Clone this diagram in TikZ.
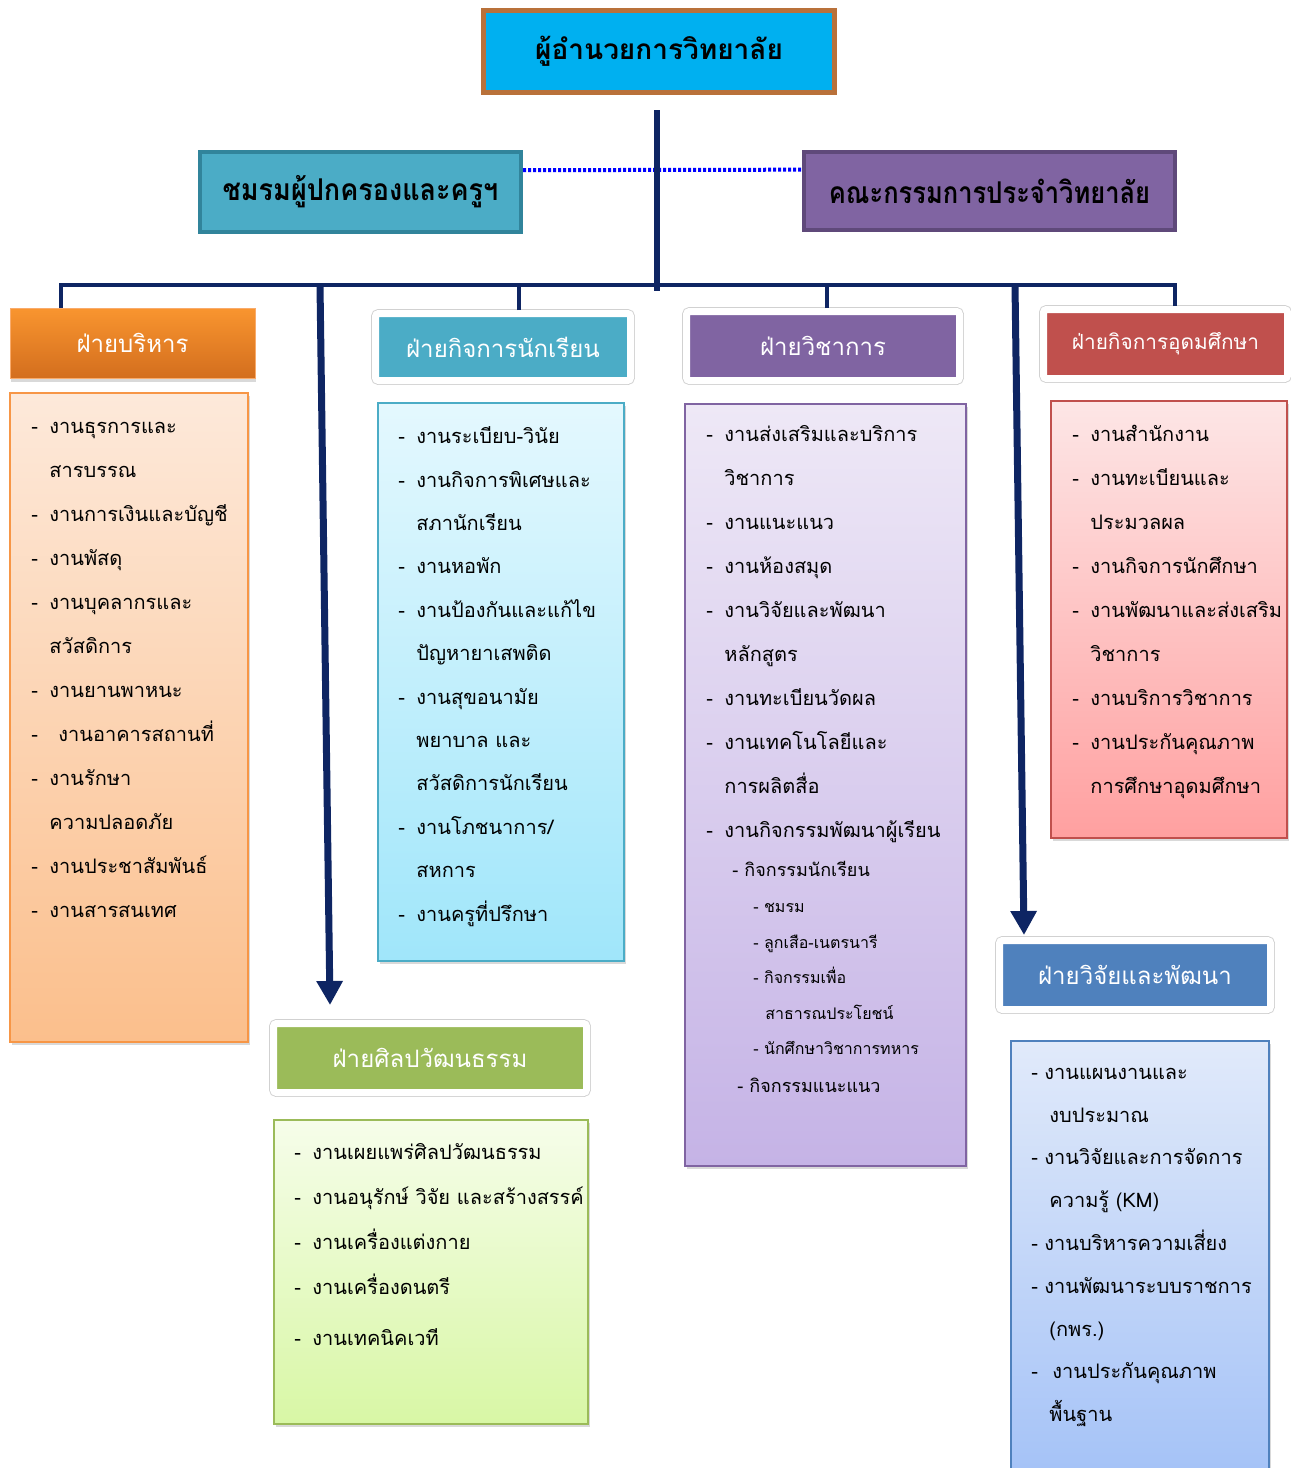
\documentclass[tikz,border=0pt]{standalone}
\usepackage{fontspec}
\usepackage{graphicx}
\newfontfamily\thai[Script=Thai]{Loma}
\usetikzlibrary{arrows.meta,shadows,calc}

\definecolor{navy}{HTML}{0E2563}
\definecolor{dirfill}{HTML}{00B0F0}
\definecolor{dirline}{HTML}{B9713A}
\definecolor{parfill}{HTML}{4BACC6}
\definecolor{parline}{HTML}{31849B}
\definecolor{brdfill}{HTML}{8064A2}
\definecolor{brdline}{HTML}{5F497A}
\definecolor{admtop}{HTML}{F9952F}
\definecolor{admbot}{HTML}{D36E1E}
\definecolor{stufill}{HTML}{4BACC6}
\definecolor{acadfill}{HTML}{8064A2}
\definecolor{highfill}{HTML}{C0504D}
\definecolor{rndfill}{HTML}{4F81BD}
\definecolor{cultfill}{HTML}{9BBB59}
\definecolor{admlt}{HTML}{FDE9DA}
\definecolor{admdk}{HTML}{FBBF8C}
\definecolor{admln}{HTML}{F79646}
\definecolor{stult}{HTML}{E4F8FE}
\definecolor{studk}{HTML}{A0E6FA}
\definecolor{acadlt}{HTML}{EEE8F6}
\definecolor{acaddk}{HTML}{C5B3E6}
\definecolor{highlt}{HTML}{FDE6E6}
\definecolor{highdk}{HTML}{FFA0A0}
\definecolor{rndlt}{HTML}{E1EAFA}
\definecolor{rnddk}{HTML}{A4C2F7}
\definecolor{cultlt}{HTML}{F6FDEA}
\definecolor{cultdk}{HTML}{D8F7A5}

\newcommand{\itm}[1]{\strut\makebox[9pt][l]{-}#1}
\newcommand{\cnt}[1]{\strut\hspace*{9pt}#1}
\newcommand{\cond}[2]{\scalebox{#1}[1]{#2}}

\tikzset{
  topbox/.style={draw, line width=2.5pt, inner sep=0pt,
    font=\thai\bfseries\fontsize{14}{18}\selectfont},
  sidebox/.style={draw, line width=2pt, inner sep=0pt,
    font=\thai\bfseries\fontsize{15}{18}\selectfont},
  headbox/.style={draw=white, line width=3.5pt, rounded corners=1.5pt, inner sep=0pt,
    text=white, font=\thai\fontsize{12}{15}\selectfont,
    drop shadow={opacity=0.3, shadow xshift=0.6pt, shadow yshift=-2pt},
    preaction={draw=black!18, line width=4.4pt}},
  listbox/.style={line width=1pt, inner sep=0pt,
    drop shadow={opacity=0.3, shadow xshift=1.2pt, shadow yshift=-1.6pt}},
  listtext/.style={anchor=north west, align=left, inner sep=0pt,
    font=\thai\fontsize{10}{22}\selectfont},
  subm/.style={anchor=base west, inner sep=0pt, font=\thai\fontsize{9}{11}\selectfont},
  subs/.style={anchor=base west, inner sep=0pt, font=\thai\fontsize{8}{9}\selectfont},
  trunkline/.style={navy, line width=3pt},
  busline/.style={navy, line width=2pt},
  bigarrow/.style={navy, line width=3.5pt, -{Triangle[width=12.5pt,length=12pt]}},
  dotlink/.style={blue, line width=2pt, dash pattern=on 1.5pt off 1pt}
}

\begin{document}
\begin{tikzpicture}[x=0.5pt,y=-0.5pt]
  \useasboundingbox (0,0) rectangle (1291,1468);

  % top level
  \node[topbox, draw=dirline, fill=dirfill, minimum width=175.5pt, minimum height=41pt]
    (dir) at (659,51.5) {ผู้อำนวยการวิทยาลัย};
  \node[sidebox, draw=parline, fill=parfill, minimum width=160.5pt, minimum height=40pt]
    (parent) at (360.5,192) {\cond{0.9}{ชมรมผู้ปกครองและครูฯ}};
  \node[sidebox, draw=brdline, fill=brdfill, minimum width=185.5pt, minimum height=39pt]
    (board) at (989.5,191) {\cond{0.85}{คณะกรรมการประจำวิทยาลัย}};

  \draw[dotlink] ($(parent.north east)!0.24!(parent.south east)$)
    -- ($(board.north west)!0.24!(board.south west)$);

  % divisions
  \node[draw=admln!80!white, line width=0.5pt, top color=admtop, bottom color=admbot,
    text=white, inner sep=0pt, font=\thai\fontsize{12}{15}\selectfont,
    minimum width=122.5pt, minimum height=35pt,
    drop shadow={opacity=0.3, shadow xshift=0.6pt, shadow yshift=-2pt}]
    (adm) at (132.5,343) {ฝ่ายบริหาร};
  \node[headbox, fill=stufill, minimum width=127.5pt, minimum height=33.5pt]
    (stu) at (503,347) {ฝ่ายกิจการนักเรียน};
  \node[headbox, fill=acadfill, minimum width=136.5pt, minimum height=34.5pt]
    (acad) at (823,346) {ฝ่ายวิชาการ};
  \node[headbox, fill=highfill, minimum width=122pt, minimum height=34.5pt,
    font=\thai\fontsize{10.4}{14}\selectfont]
    (high) at (1165.5,344) {ฝ่ายกิจการอุดมศึกษา};
  \node[headbox, fill=cultfill, minimum width=156.5pt, minimum height=34.5pt]
    (cult) at (430,1058) {ฝ่ายศิลปวัฒนธรรม};
  \node[headbox, fill=rndfill, minimum width=135.5pt, minimum height=34.5pt]
    (rnd) at (1135,975) {ฝ่ายวิจัยและพัฒนา};

  % connectors
  \coordinate (trunk) at (657,110);
  \coordinate (bus) at (657,285);
  \foreach \n/\dx in {adm/-71.5, stu/16, acad/4, high/9.5}
    \draw[busline] ($(\n.north)+(\dx,0)$) |- (bus);
  \draw[trunkline] (trunk) -- ($(bus)+(0,6)$);
  \coordinate (cultsrc) at (320,285);
  \coordinate (rndsrc) at (1015,285);
  \draw[bigarrow] (cultsrc) -- ($(cult.north west)+(60,-15)$);
  \draw[bigarrow] (rndsrc) -- ($(rnd.north west)+(28,-2)$);

  % task boxes
  \node[listbox, draw=admln, top color=admlt, bottom color=admdk,
    minimum width=119pt, minimum height=324.5pt] (admlist) at (129,717.5) {};
  \node[listbox, draw=stufill, top color=stult, bottom color=studk,
    minimum width=123pt, minimum height=279pt] (stulist) at (501,682) {};
  \node[listbox, draw=acadfill, top color=acadlt, bottom color=acaddk,
    minimum width=140.5pt, minimum height=381pt] (acadlist) at (825.5,785) {};
  \node[listbox, draw=highfill, top color=highlt, bottom color=highdk,
    minimum width=118pt, minimum height=218.5pt] (highlist) at (1169,619.5) {};
  \node[listbox, draw=rndfill, top color=rndlt, bottom color=rnddk,
    minimum width=129pt, minimum height=219.5pt] (rndlist) at (1140,1260.5) {};
  \node[listbox, draw=cultfill, top color=cultlt, bottom color=cultdk,
    minimum width=157pt, minimum height=152pt] (cultlist) at (431,1272) {};

  \node[listtext] (admtext) at ($(admlist.north west)+(22,10)$) {%
    \itm{งานธุรการและ}\\
    \cnt{สารบรรณ}\\
    \itm{งานการเงินและบัญชี}\\
    \itm{งานพัสดุ}\\
    \itm{งานบุคลากรและ}\\
    \cnt{สวัสดิการ}\\
    \itm{งานยานพาหนะ}\\
    \strut\makebox[13.5pt][l]{-}งานอาคารสถานที่\\
    \itm{งานรักษา}\\
    \cnt{ความปลอดภัย}\\
    \itm{งานประชาสัมพันธ์}\\
    \itm{งานสารสนเทศ}};

  \node[listtext, font=\thai\fontsize{10}{21.7}\selectfont]
    (stutext) at ($(stulist.north west)+(21,11)$) {%
    \itm{งานระเบียบ-วินัย}\\
    \itm{งานกิจการพิเศษและ}\\
    \cnt{สภานักเรียน}\\
    \itm{งานหอพัก}\\
    \itm{งานป้องกันและแก้ไข}\\
    \cnt{ปัญหายาเสพติด}\\
    \itm{งานสุขอนามัย}\\
    \cnt{พยาบาล และ}\\
    \cnt{สวัสดิการนักเรียน}\\
    \itm{งานโภชนาการ/}\\
    \cnt{สหการ}\\
    \itm{งานครูที่ปรึกษา}};

  \node[listtext] (acadtext) at ($(acadlist.north west)+(22,7)$) {%
    \itm{งานส่งเสริมและบริการ}\\
    \cnt{วิชาการ}\\
    \itm{งานแนะแนว}\\
    \itm{งานห้องสมุด}\\
    \itm{งานวิจัยและพัฒนา}\\
    \cnt{หลักสูตร}\\
    \itm{งานทะเบียนวัดผล}\\
    \itm{งานเทคโนโลยีและ}\\
    \cnt{การผลิตสื่อ}\\
    \itm{งานกิจกรรมพัฒนาผู้เรียน}};
  \foreach \x/\y/\s/\t in {732/870/subm/{- กิจกรรมนักเรียน},
      753/906/subs/{- ชมรม}, 753/942/subs/{- ลูกเสือ-เนตรนารี},
      753/977/subs/{- กิจกรรมเพื่อ}, 765/1013/subs/{สาธารณประโยชน์},
      753/1048/subs/{- นักศึกษาวิชาการทหาร}, 737/1086/subm/{- กิจกรรมแนะแนว}}
    \node[\s] (act\y) at (\x,{\y+6}) {\t};

  \node[listtext] (hightext) at ($(highlist.north west)+(22,10)$) {%
    \itm{งานสำนักงาน}\\
    \itm{งานทะเบียนและ}\\
    \cnt{ประมวลผล}\\
    \itm{งานกิจการนักศึกษา}\\
    \itm{งานพัฒนาและส่งเสริม}\\
    \cnt{วิชาการ}\\
    \itm{งานบริการวิชาการ}\\
    \itm{งานประกันคุณภาพ}\\
    \cnt{การศึกษาอุดมศึกษา}};

  \node[listtext, font=\thai\fontsize{10}{21.4}\selectfont]
    (rndtext) at ($(rndlist.north west)+(21,9)$) {%
    \strut\makebox[6.5pt][l]{-}งานแผนงานและ\\
    \cnt{งบประมาณ}\\
    \strut\makebox[6.5pt][l]{-}งานวิจัยและการจัดการ\\
    \cnt{ความรู้ (KM)}\\
    \strut\makebox[6.5pt][l]{-}งานบริหารความเสี่ยง\\
    \strut\makebox[6.5pt][l]{-}งานพัฒนาระบบราชการ\\
    \cnt{(กพร.)}\\
    \strut\makebox[10.5pt][l]{-}งานประกันคุณภาพ\\
    \cnt{พื้นฐาน}};

  \node[listtext, font=\thai\fontsize{10}{22.5}\selectfont]
    (culttext) at ($(cultlist.north west)+(21,9)$) {%
    \itm{งานเผยแพร่ศิลปวัฒนธรรม}\\
    \itm{งานอนุรักษ์ วิจัย และสร้างสรรค์}\\
    \itm{งานเครื่องแต่งกาย}\\
    \itm{งานเครื่องดนตรี}\\[3pt]
    \itm{งานเทคนิคเวที}};
\end{tikzpicture}
\end{document}
